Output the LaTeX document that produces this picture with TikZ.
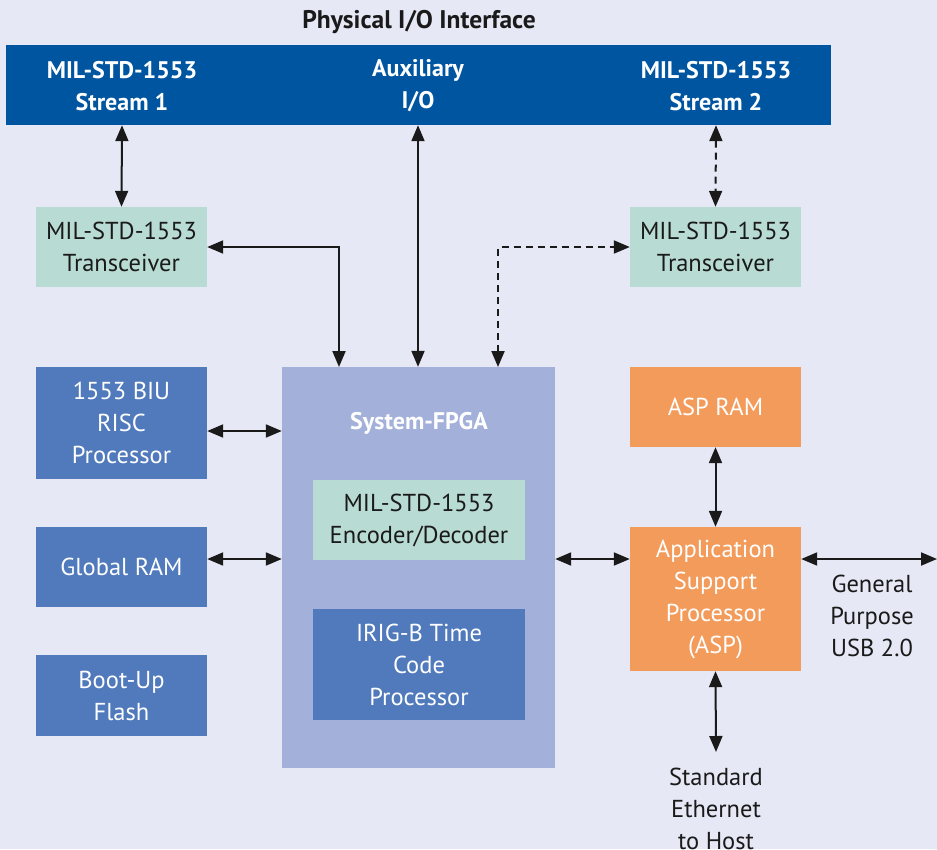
\documentclass[tikz,border=0pt]{standalone}
\usepackage{fontspec}
\setmainfont{PT Sans}
\usetikzlibrary{arrows.meta}
\definecolor{bgc}{RGB}{230,232,245}
\definecolor{barc}{RGB}{0,85,160}
\definecolor{mint}{RGB}{184,219,211}
\definecolor{blu}{RGB}{80,122,188}
\definecolor{fpgac}{RGB}{163,177,218}
\definecolor{orng}{RGB}{243,155,90}
\definecolor{ink}{RGB}{26,26,26}
\tikzset{
  box/.style={inner sep=0pt, align=center, font=\fontsize{24.5}{32}\selectfont},
  bbox/.style={inner sep=0pt, align=center, text=white, font=\bfseries\fontsize{24}{32}\selectfont},
  lbl/.style={inner sep=0pt, align=center, font=\fontsize{24.5}{32}\selectfont, text=ink},
  conn/.style={draw=ink, line width=2pt, {Triangle[length=16pt,width=13pt]}-{Triangle[length=16pt,width=13pt]}},
  dconn/.style={conn, dash pattern=on 7pt off 5pt}
}
\begin{document}
\begin{tikzpicture}[x=1pt,y=-1pt]
\fill[bgc] (0,0) rectangle (937,849);
\useasboundingbox (0,0) rectangle (937,849);
\node[lbl, font=\bfseries\fontsize{25.5}{32}\selectfont] (title) at (419,22) {Physical I/O Interface};
\node[box, fill=barc, minimum width=825pt, minimum height=80pt] (bar) at (418.5,85) {};
\node[bbox] (s1) at (122,86) {MIL-STD-1553\\Stream 1};
\node[bbox] (aux) at (418,86) {Auxiliary\\I/O};
\node[bbox] (s2) at (716,86) {MIL-STD-1553\\Stream 2};
\node[box, fill=mint, text=ink, minimum width=171pt, minimum height=80pt] (tl) at (121.5,247) {MIL-STD-1553\\Transceiver};
\node[box, fill=mint, text=ink, minimum width=171pt, minimum height=80pt] (tr) at (715.5,247) {MIL-STD-1553\\Transceiver};
\node[box, fill=blu, text=white, minimum width=171pt, minimum height=112pt] (biu) at (121.5,423) {1553 BIU\\RISC\\Processor};
\node[box, fill=blu, text=white, minimum width=171pt, minimum height=80pt] (gram) at (121.5,567) {Global RAM};
\node[box, fill=blu, text=white, minimum width=171pt, minimum height=81pt] (boot) at (121.5,695.5) {Boot-Up\\Flash};
\node[box, fill=fpgac, minimum width=273pt, minimum height=401pt] (fpga) at (418.5,567.5) {};
\node[bbox] (fpgat) at (419,423) {System-FPGA};
\node[box, fill=mint, text=ink, minimum width=212pt, minimum height=80pt] (enc) at (419,520) {MIL-STD-1553\\Encoder/Decoder};
\node[box, fill=blu, text=white, minimum width=212pt, minimum height=111pt] (irig) at (419,664.5) {IRIG-B Time\\Code\\Processor};
\node[box, fill=orng, text=white, minimum width=171pt, minimum height=80pt] (aspram) at (715.5,407) {ASP RAM};
\node[box, fill=orng, text=white, minimum width=171pt, minimum height=144pt] (asp) at (715.5,599) {Application\\Support\\Processor\\(ASP)};
\node[lbl] (usb) at (872,616) {General\\Purpose\\USB 2.0};
\node[lbl] (eth) at (716,809) {Standard\\Ethernet\\to Host};
\coordinate (usbend) at (937,559);
\coordinate (ethend) at (716,752);
% connectors
\draw[conn] (s1 |- bar.south) -- (tl.north);
\draw[conn] (aux |- bar.south) -- (aux |- fpga.north);
\draw[dconn] (s2 |- bar.south) -- (tr.north);
\draw[conn] (tl.east) -| (339,367);
\draw[dconn] (498,367) |- (tr.west);
\draw[conn] (biu.east |- 0,431) -- (fpga.west |- 0,431);
\draw[conn] (gram.east |- 0,559) -- (fpga.west |- 0,559);
\draw[conn] (fpga.east |- 0,559) -- (asp.west |- 0,559);
\draw[conn] (aspram.south) -- (asp.north);
\draw[conn] (asp.east |- 0,559) -- (usbend);
\draw[conn] (asp.south) -- (ethend);
\end{tikzpicture}
\end{document}
